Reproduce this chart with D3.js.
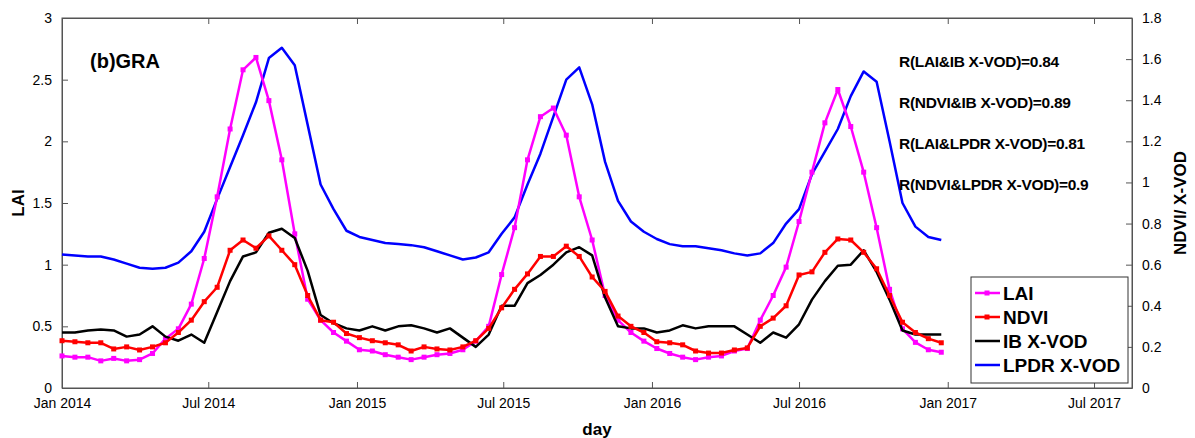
<!DOCTYPE html>
<html><head><meta charset="utf-8">
<script src="https://cdn.jsdelivr.net/npm/d3@7"></script>
<style>body{margin:0;background:#fff}text{font-family:Arial,"Liberation Sans",sans-serif}</style>
</head><body><svg id="c" width="1195" height="438"></svg>
<script>
// 16-day steps starting Jan 1 2014
var lai = [0.26,0.25,0.25,0.22,0.24,0.22,0.23,0.28,0.40,0.48,0.68,1.05,1.55,2.1,2.58,2.68,2.33,1.85,1.25,0.72,0.55,0.45,0.38,
  0.31,0.30,0.27,0.25,0.23,0.25,0.27,0.28,0.31,0.38,0.50,0.92,1.3,1.85,2.2,2.27,2.05,1.55,1.2,0.75,0.55,0.45,0.38,0.32,
  0.28,0.25,0.23,0.25,0.26,0.30,0.32,0.55,0.75,0.98,1.35,1.75,2.15,2.42,2.12,1.75,1.30,0.80,0.48,0.37,0.31,0.29];
var ndvi = [0.23,0.225,0.22,0.22,0.19,0.20,0.185,0.20,0.22,0.27,0.33,0.42,0.49,0.67,0.72,0.68,0.74,0.67,0.60,0.45,0.33,0.32,0.265,
  0.245,0.23,0.22,0.21,0.18,0.20,0.19,0.185,0.20,0.23,0.29,0.39,0.48,0.555,0.64,0.64,0.69,0.64,0.54,0.47,0.35,0.30,0.27,0.225,
  0.22,0.21,0.18,0.17,0.17,0.185,0.195,0.30,0.34,0.40,0.55,0.565,0.66,0.725,0.72,0.66,0.58,0.45,0.32,0.27,0.24,0.22];
var ibvod = [0.27,0.27,0.28,0.285,0.28,0.25,0.26,0.30,0.25,0.23,0.26,0.22,0.37,0.52,0.64,0.66,0.755,0.775,0.73,0.57,0.355,0.315,0.29,
  0.28,0.30,0.28,0.30,0.305,0.29,0.27,0.29,0.245,0.20,0.26,0.40,0.40,0.51,0.55,0.60,0.66,0.685,0.645,0.44,0.30,0.29,0.29,0.27,
  0.28,0.305,0.29,0.30,0.30,0.30,0.26,0.22,0.27,0.245,0.31,0.43,0.52,0.595,0.60,0.67,0.565,0.43,0.28,0.26,0.26,0.26];
var lpdr = [0.65,0.645,0.64,0.64,0.625,0.605,0.585,0.58,0.585,0.61,0.665,0.76,0.92,1.075,1.23,1.39,1.605,1.655,1.57,1.28,0.99,0.87,0.765,
  0.735,0.72,0.705,0.70,0.695,0.685,0.665,0.645,0.625,0.635,0.66,0.75,0.83,0.99,1.14,1.32,1.50,1.56,1.38,1.10,0.91,0.81,0.76,0.725,
  0.70,0.69,0.69,0.68,0.67,0.655,0.645,0.655,0.705,0.80,0.87,1.04,1.15,1.26,1.42,1.54,1.49,1.20,0.90,0.785,0.735,0.72];
var xTicks = ["2014-01-01","2014-07-01","2015-01-01","2015-07-01","2016-01-01","2016-07-01","2017-01-01","2017-07-01"];
var xTickLabels = ["Jan 2014","Jul 2014","Jan 2015","Jul 2015","Jan 2016","Jul 2016","Jan 2017","Jul 2017"];
var leftTicks = [0,0.5,1,1.5,2,2.5,3];
var rightTicks = [0,0.2,0.4,0.6,0.8,1,1.2,1.4,1.6,1.8];
var rTexts = ["R(LAI&IB X-VOD)=0.84","R(NDVI&IB X-VOD)=0.89","R(LAI&LPDR X-VOD)=0.81","R(NDVI&LPDR X-VOD)=0.9"];
var legendNames = ["LAI","NDVI","IB X-VOD","LPDR X-VOD"];
var legendColors = ["#ff00ff","#ff0000","#000000","#0000ff"];

var start = new Date(2014,0,1);
var dates = lai.map((d,i) => d3.timeDay.offset(start, 16*i));
var L = 62, R = 1132, T = 18, B = 388;
var svg = d3.select("#c");
var x = d3.scaleTime().domain([start, new Date(2017,7,17)]).range([L,R]);
var yl = d3.scaleLinear().domain([0,3]).range([B,T]);
var yr = d3.scaleLinear().domain([0,1.8]).range([B,T]);
var tickDates = xTicks.map(s => d3.timeParse("%Y-%m-%d")(s));

svg.append("g").attr("transform",`translate(0,${B})`)
  .call(d3.axisBottom(x).tickValues(tickDates).tickSizeInner(-6).tickSizeOuter(0)
    .tickPadding(10).tickFormat((d,i) => xTickLabels[i]));
svg.append("g").attr("transform",`translate(0,${T})`)
  .call(d3.axisTop(x).tickValues(tickDates).tickSizeInner(-6).tickSizeOuter(0).tickFormat(""));
svg.append("g").attr("transform",`translate(${L},0)`)
  .call(d3.axisLeft(yl).tickValues(leftTicks).tickSizeInner(-6).tickSizeOuter(0).tickPadding(10).tickFormat(d3.format("")));
svg.append("g").attr("transform",`translate(${R},0)`)
  .call(d3.axisRight(yr).tickValues(rightTicks).tickSizeInner(-6).tickSizeOuter(0).tickPadding(10).tickFormat(d3.format("")));
svg.selectAll(".tick text").attr("font-size",14).attr("fill","#000");
svg.selectAll(".domain,.tick line").attr("stroke","#555");
svg.append("rect").attr("x",L).attr("y",T).attr("width",R-L).attr("height",B-T)
  .attr("fill","none").attr("stroke","#555");

function series(vals, y, color, marker) {
  var line = d3.line().x((d,i) => x(dates[i])).y(d => y(d));
  svg.append("path").datum(vals).attr("d",line).attr("fill","none")
    .attr("stroke",color).attr("stroke-width",2.5).attr("stroke-linejoin","round");
  if (marker) {
    svg.append("g").selectAll("rect").data(vals).join("rect")
      .attr("x",(d,i) => x(dates[i])-2.5).attr("y",d => y(d)-2.5)
      .attr("width",5).attr("height",5).attr("fill",color);
  }
}
series(lpdr, yr, legendColors[3], false);
series(lai, yl, legendColors[0], true);
series(ibvod, yr, legendColors[2], false);
series(ndvi, yr, legendColors[1], true);

svg.append("text").attr("x",90).attr("y",68).attr("font-size",20).attr("font-weight","bold").text("(b)GRA");
rTexts.forEach((t,i) => svg.append("text").attr("x",899).attr("y",67+i*41)
  .attr("font-size",15.5).attr("font-weight","bold").attr("letter-spacing",-0.3).text(t));

svg.append("text").attr("x",(L+R)/2).attr("y",435).attr("text-anchor","middle")
  .attr("font-size",17).attr("font-weight","bold").text("day");
svg.append("text").attr("transform","translate(24,203) rotate(-90)").attr("text-anchor","middle")
  .attr("font-size",17).attr("font-weight","bold").text("LAI");
svg.append("text").attr("transform","translate(1186,203) rotate(-90)").attr("text-anchor","middle")
  .attr("font-size",17).attr("font-weight","bold").text("NDVI/ X-VOD");

var lg = svg.append("g");
lg.append("rect").attr("x",971).attr("y",277).attr("width",157).attr("height",106)
  .attr("fill","#fff").attr("stroke","#333");
legendNames.forEach((n,i) => {
  var yy = 293 + i*24;
  lg.append("line").attr("x1",975).attr("x2",1000).attr("y1",yy).attr("y2",yy)
    .attr("stroke",legendColors[i]).attr("stroke-width",2.5);
  if (i < 2) lg.append("rect").attr("x",984.5).attr("y",yy-2.5).attr("width",5).attr("height",5).attr("fill",legendColors[i]);
  lg.append("text").attr("x",1003).attr("y",yy+7).attr("font-size",19).attr("font-weight","bold").text(n);
});
</script></body></html>
